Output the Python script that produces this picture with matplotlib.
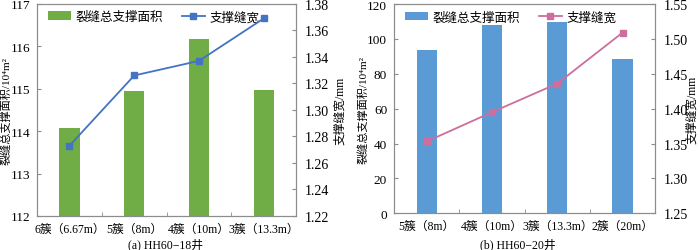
import numpy as np
import matplotlib.pyplot as plt

# --------------------------------------------------------------------------------------------------
# data
cats_a = ["6簇（6.67m）", "5簇（8m）", "4簇（10m）", "3簇（13.3m）"]
area_a = [114.07, 114.95, 116.17, 114.97]
width_a = [1.273, 1.326, 1.337, 1.369]

cats_b = ["5簇（8m）", "4簇（10m）", "3簇（13.3m）", "2簇（20m）"]
area_b = [93.6, 107.9, 109.8, 88.4]
width_b = [1.353, 1.395, 1.436, 1.509]

FONT = ["Liberation Serif", "Noto Sans CJK SC"]
SPINE = "#8c8c8c"
FILE_FIG = "out.png"
# --------------------------------------------------------------------------------------------------


def panel(ax, cats, area, width, ylim, yticks, y2lim, y2ticks, bar_c, line_c, lx, rx):
    x = np.arange(len(cats))
    ax.bar(x, area, width=0.31, color=bar_c, label="裂缝总支撑面积", zorder=2)
    ax.set_xlim(-0.5, len(cats) - 0.5)
    ax.set_ylim(*ylim)
    ax.set_yticks(yticks)
    ax.set_xticks(x)
    ax.set_xticklabels(cats, family=FONT, fontsize=8.5)
    ax.set_xticks(np.arange(len(cats) + 1) - 0.5, minor=True)
    ax.tick_params(axis="x", which="major", length=0, pad=5)
    ax.tick_params(axis="x", which="minor", direction="in", length=3, color=SPINE)
    ax.tick_params(axis="y", direction="in", length=3, color=SPINE, labelsize=9.5, pad=5)
    ax.set_ylabel("裂缝总支撑面积/10⁴m²", family=FONT, fontsize=8)
    ax.yaxis.set_label_coords(lx, 0.5)

    ax2 = ax.twinx()
    ax2.plot(x, width, color=line_c, marker="s", markersize=4, linewidth=1.3, label="支撑缝宽")
    ax2.set_ylim(*y2lim)
    ax2.set_yticks(y2ticks)
    ax2.set_yticklabels(["{:.2f}".format(v) for v in y2ticks])
    ax2.tick_params(axis="y", direction="in", length=3, color=SPINE, labelsize=10, pad=6)
    ax2.set_ylabel("支撑缝宽/mm", family=FONT, fontsize=8.5)
    ax2.yaxis.set_label_coords(rx, 0.5)

    for a in (ax, ax2):
        for s in a.spines.values():
            s.set_color(SPINE)
            s.set_linewidth(0.8)
        for lab in a.get_yticklabels():
            lab.set_family(FONT)

    h1, l1 = ax.get_legend_handles_labels()
    h2, l2 = ax2.get_legend_handles_labels()
    ax.legend(h1 + h2, l1 + l2, loc="upper left", ncol=2, frameon=False,
              prop={"family": FONT, "size": 9}, bbox_to_anchor=(0.0, 1.02),
              handlelength=1.8, columnspacing=1.5, handletextpad=0.4)


def main():
    plt.rcParams["font.family"] = FONT
    plt.rcParams["axes.unicode_minus"] = False

    fig = plt.figure(figsize=(7, 2.51), dpi=100)
    ax_a = fig.add_axes([0.053, 0.1355, 0.370, 0.845])
    ax_b = fig.add_axes([0.563, 0.146, 0.373, 0.834])

    panel(ax_a, cats_a, area_a, width_a, (112, 117), [112, 113, 114, 115, 116, 117],
          (1.22, 1.38), [1.22, 1.24, 1.26, 1.28, 1.30, 1.32, 1.34, 1.36, 1.38],
          "#70ad47", "#4472c4", -0.1, 1.147)
    panel(ax_b, cats_b, area_b, width_b, (0, 120), [0, 20, 40, 60, 80, 100, 120],
          (1.25, 1.55), [1.25, 1.30, 1.35, 1.40, 1.45, 1.50, 1.55],
          "#5b9bd5", "#cc6e9e", -0.1, 1.119)

    fig.text(166 / 700, 1 - 245 / 251, "(a) HH60−18井", ha="center", va="center", fontsize=8.5)
    fig.text(518 / 700, 1 - 245 / 251, "(b) HH60−20井", ha="center", va="center", fontsize=8.5)

    fig.savefig(FILE_FIG, dpi=100)
    plt.close(fig)
# --------------------------------------------------------------------------------------------------


if __name__ == '__main__':
    main()
